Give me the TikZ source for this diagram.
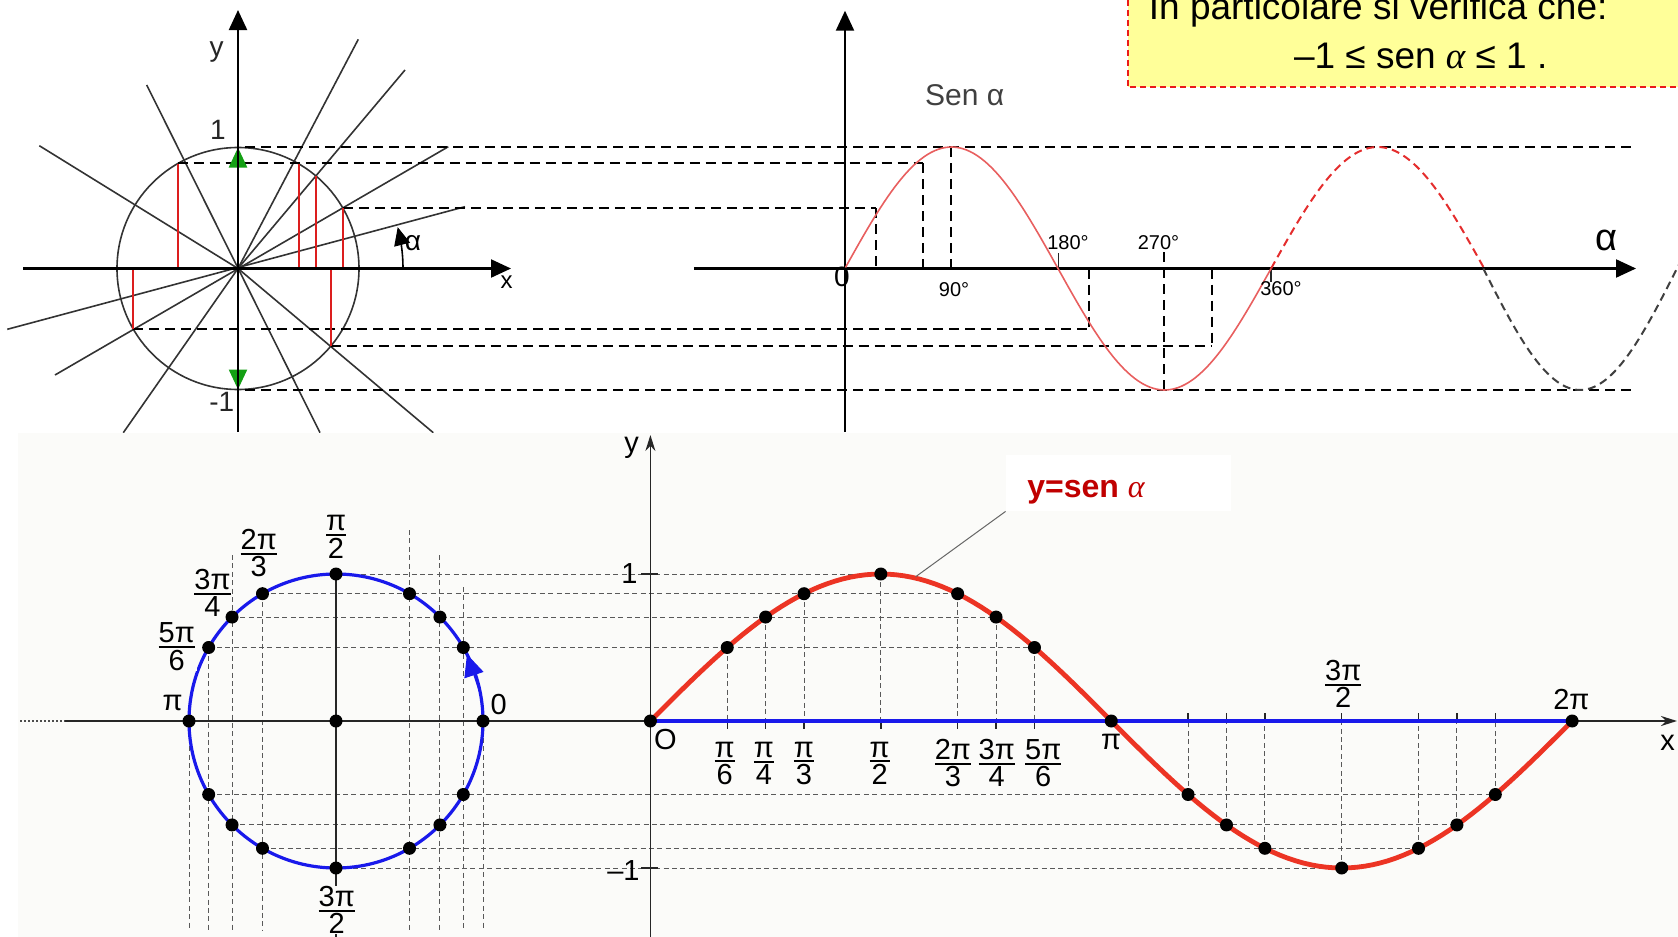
\documentclass[tikz,border=0pt]{standalone}
\usepackage{fontspec}
\setmainfont{Liberation Sans}
\newfontfamily\tnr{Liberation Serif}
\usetikzlibrary{arrows.meta}
\newcommand\fsz[1]{\fontsize{#1}{#1}\selectfont}
\newcommand\fr[2]{$\textstyle{\mbox{#1}\above 1pt\mbox{#2}}$}
\definecolor{panel}{RGB}{251,251,249}
\definecolor{boxyellow}{RGB}{255,255,153}
\definecolor{boxred}{RGB}{235,25,25}
\definecolor{circred}{RGB}{220,30,30}
\definecolor{sinred}{RGB}{232,95,95}
\definecolor{dashred}{RGB}{228,45,45}
\definecolor{arrowgreen}{RGB}{20,160,20}
\definecolor{curvered}{RGB}{236,52,36}
\definecolor{curveblue}{RGB}{25,25,235}
\definecolor{labelred}{RGB}{192,0,0}
\begin{document}
\begin{tikzpicture}[x=0.5pt,y=-0.5pt,
  ax/.style={line width=1.1pt,black},
  rayl/.style={line width=0.8pt,black!80},
  hd/.style={line width=1pt,black,dash pattern=on 5pt off 3pt},
  gd/.style={line width=0.5pt,black!65,dash pattern=on 2.5pt off 1.7pt},
  blackdot/.style={circle,fill=black,inner sep=0pt,minimum size=6.5pt},
  lbl/.style={inner sep=0pt,font=\fsz{14.5}},
  toplbl/.style={inner sep=0pt,font=\fsz{14},text=black!85},
  deg/.style={inner sep=0pt,font=\fsz{10}},
  tri/.style={-{Triangle[length=10pt,width=9pt]}},
  tickl/.style={line width=0.7pt,black!85},
]
\useasboundingbox (0,0) rectangle (1678,937);
\clip (0,0) rectangle (1678,937);

% ---------------- yellow box ----------------
\coordinate (yb1) at (1127.6,-10);
\coordinate (yb2) at (1127.6,87.3);
\coordinate (yb3) at (1690,87.3);
\fill[boxyellow] (yb1) rectangle (yb3);
\draw[boxred,line width=1pt,dash pattern=on 3pt off 2pt] (yb1) -- (yb2) -- (yb3);
\node[anchor=base west,inner sep=0pt,font=\fsz{18.5}] (t1) at (1148.5,19.5) {In particolare si verifica che:};
\node[anchor=base,inner sep=0pt,font=\fsz{18.5}] (t2) at (1420.7,68.3) {–1 ≤ sen {\tnr\itshape α} ≤ 1 .};

% ---------------- top left: unit circle ----------------
\coordinate (A) at (238,268.5);
\coordinate (yab) at (238,432);
\coordinate (yat) at (238,10);
\coordinate (xal) at (23,268.5);
\coordinate (xar) at (511,268.5);

\coordinate (ra) at (39.3,145.7);
\coordinate (rb1) at (146.7,85);
\coordinate (rb2) at (320,432.7);
\coordinate (rc) at (358.3,39.3);
\coordinate (rd) at (405,70);
\coordinate (re1) at (448.3,146.7);
\coordinate (re2) at (55,375);
\coordinate (rf1) at (465,206.7);
\coordinate (rf2) at (7.3,329.3);
\coordinate (ri) at (123.3,432.7);
\coordinate (rk) at (433.3,432.7);
\draw[rayl] (A) -- (ra);
\draw[rayl] (rb1) -- (rb2);
\draw[rayl] (A) -- (rc);
\draw[rayl] (A) -- (rd);
\draw[rayl] (re1) -- (re2);
\draw[rayl] (rf1) -- (rf2);
\draw[rayl] (A) -- (ri);
\draw[rayl] (A) -- (rk);

\draw[line width=0.8pt,black!80] (A) circle[radius=60.5pt];

\coordinate (h1a) at (245,147); \coordinate (h1b) at (1636,147);
\coordinate (h2a) at ({238+121*cos(120)},163); \coordinate (h2b) at (922.8,163);
\coordinate (h3a) at ({238+121*cos(30)},208); \coordinate (h3b) at (875.7,208);
\coordinate (h4a) at ({238+121*cos(210)},329); \coordinate (h4b) at (1089.3,329);
\coordinate (h5a) at ({238+121*cos(320)},346.3); \coordinate (h5b) at (1211.8,346.3);
\coordinate (h6a) at (245,389.5); \coordinate (h6b) at (1636,389.5);
\foreach \i in {1,...,6} \draw[hd] (h\i a) -- (h\i b);

\foreach \a in {30,50,60,120,210,320}{
  \coordinate (rs\a a) at ({238+121*cos(\a)},268.5);
  \coordinate (rs\a b) at ({238+121*cos(\a)},{268.5-121*sin(\a)});
  \draw[circred,line width=1pt] (rs\a a) -- (rs\a b);
}

\coordinate (gtop) at (238,147.5);
\coordinate (gbot) at (238,389.5);
\draw[arrowgreen,line width=1.2pt,-{Triangle[length=10pt,width=9pt]}] (A) -- (gtop);
\draw[arrowgreen,line width=1.2pt,-{Triangle[length=10pt,width=9pt]}] (A) -- (gbot);

\draw[ax,tri] (yab) -- (yat);
\draw[ax,tri] (xal) -- (xar);

\draw[line width=0.8pt,black,-{Triangle[length=9pt,width=8pt]}] plot[domain=0:14.5,samples=20] ({238+165*cos(\x)},{268.5-165*sin(\x)});

\node[toplbl] (ly) at (216.7,51.7) {y};
\node[toplbl] (l1) at (218,130) {1};
\node[toplbl] (lm1) at (221.7,401.7) {-1};
\node[inner sep=0pt,font=\fsz{12}] (lx) at (506.7,281.7) {x};
\node[inner sep=0pt,font=\fsz{14}] (lal) at (413,243) {α};

% ---------------- top right: sine graph ----------------
\coordinate (Gy0) at (845,432);
\coordinate (Gy1) at (845,10.7);
\coordinate (Gx0) at (693.8,268.5);
\coordinate (Gx1) at (1636,268.5);
\draw[ax,tri] (Gy0) -- (Gy1);
\draw[ax,tri] (Gx0) -- (Gx1);

\coordinate (v1a) at (875.7,208); \coordinate (v1b) at (875.7,268.5);
\coordinate (v2a) at (922.8,163); \coordinate (v2b) at (922.8,268.5);
\coordinate (v3a) at (951.3,147); \coordinate (v3b) at (951.3,268.5);
\coordinate (v4a) at (1089.3,268.5); \coordinate (v4b) at (1089.3,329);
\coordinate (v5a) at (1164.4,252); \coordinate (v5b) at (1164.4,389.5);
\coordinate (v6a) at (1211.8,268.5); \coordinate (v6b) at (1211.8,346.3);
\foreach \i in {1,...,6} \draw[hd] (v\i a) -- (v\i b);

\coordinate (tk1a) at (1058.4,253); \coordinate (tk1b) at (1058.4,268.5);
\coordinate (tk2a) at (1271.1,268.5); \coordinate (tk2b) at (1271.1,281.5);
\draw[tickl] (tk1a) -- (tk1b);
\draw[tickl] (tk2a) -- (tk2b);

\draw[sinred,line width=0.8pt] plot[domain=0:360,samples=120] ({844.9+1.1839*\x},{268.5-121.5*sin(\x)});
\draw[dashred,line width=1pt,dash pattern=on 4pt off 2.5pt] plot[domain=360:540,samples=60] ({844.9+1.1839*\x},{268.5-121.5*sin(\x)});
\draw[black!75,line width=1pt,dash pattern=on 4pt off 2.5pt] plot[domain=540:725,samples=60] ({1483.3+1.076*(\x-540)},{268.5-121.5*sin(\x)});

\node[inner sep=0pt,font=\fsz{14}] (g0) at (842,277) {0};
\node[deg] (d90) at (954,290) {90°};
\node[deg] (d180) at (1068,243) {180°};
\node[deg] (d270) at (1158.5,243) {270°};
\node[deg] (d360) at (1281,289) {360°};
\node[inner sep=0pt,font=\fsz{15},text=black!75] (sen) at (964.7,95) {Sen α};
\node[inner sep=0pt,font=\fsz{19}] (alph) at (1606.7,240) {α};

% ---------------- bottom panel ----------------
\coordinate (P0) at (18,433);
\coordinate (P1) at (1690,945);
\fill[panel] (P0) rectangle (P1);
\node[fill=white,minimum width=112.5pt,minimum height=28pt,inner sep=0pt] (labbox) at (1118.5,483) {};

\coordinate (C) at (336,721);
\coordinate (O) at (650.4,721);
\foreach \a in {0,30,45,60,90,120,135,150,180,210,225,240,270,300,315,330}
  \coordinate (c\a) at ({336+147*cos(\a)},{721-147*sin(\a)});
\foreach \a in {0,30,45,60,90,120,135,150,180,210,225,240,270,300,315,330,360}
  \coordinate (g\a) at ({650.4+2.5604*\a},{721-147*sin(\a)});

\foreach \a/\t in {0/721,30/587,45/555,60/530,120/593.7,135/555,150/647.5,180/721}{
  \coordinate (vt\a) at ({336+147*cos(\a)},\t);
  \coordinate (vb\a) at ({336+147*cos(\a)},930);
  \draw[gd] (vt\a) -- (vb\a);
}
\foreach \p/\q in {90/90,120/120,135/135,150/150,210/330,225/315,240/300,270/270}
  \draw[gd] (c\p) -- (g\q);
\foreach \a in {30,45,60,90,120,135,150,210,225,240,270,300,315,330}
  \draw[gd] (g\a) -- (g\a |- O);
\foreach \a in {30,45,60,90,120,135,150}
  \draw[tickl] (g\a |- O) -- ++(0,8);
\foreach \a in {210,225,240,270,300,315,330}
  \draw[tickl] (g\a |- O) -- ++(0,-8);

\coordinate (cvb) at (336,937);
\draw[line width=0.8pt,black!85] (c90) -- (cvb);
\coordinate (ax0) at (20,721);
\coordinate (ax1) at (65,721);
\coordinate (ax2) at (1677,721);
\draw[line width=0.8pt,black!70,dash pattern=on 1pt off 1pt] (ax0) -- (ax1);
\draw[line width=1.1pt,black!85,-{Stealth[length=8pt,width=5pt]}] (ax1) -- (ax2);
\coordinate (yb0) at (650.4,937);
\coordinate (yb1) at (650.4,435);
\draw[line width=0.8pt,black!85,-{Stealth[length=8pt,width=5pt]}] (yb0) -- (yb1);
\coordinate (tp1a) at (641,574); \coordinate (tp1b) at (658,574);
\coordinate (tm1a) at (641,868); \coordinate (tm1b) at (658,868);
\draw[tickl] (tp1a) -- (tp1b);
\draw[tickl] (tm1a) -- (tm1b);

\draw[curveblue,line width=1.6pt] (C) circle[radius=73.5pt];
\coordinate (ba1) at ({336+147*cos(10)},{721-147*sin(10)});
\coordinate (ba2) at ({336+147*cos(27)},{721-147*sin(27)});
\draw[curveblue,line width=0.5pt,-{Triangle[length=11pt,width=10pt]}] (ba1) -- (ba2);

\draw[curveblue,line width=2pt] (O) -- (g360);
\draw[curvered,line width=2.4pt] plot[domain=0:360,samples=121] ({650.4+2.5604*\x},{721-147*sin(\x)});

\node[blackdot] (dC) at (C) {};
\foreach \a in {0,30,45,60,90,120,135,150,180,210,225,240,270,300,315,330}
  \node[blackdot] (dc\a) at (c\a) {};
\foreach \a in {0,30,45,60,90,120,135,150,180,210,225,240,270,300,315,330,360}
  \node[blackdot] (dg\a) at (g\a) {};

\node[lbl] (cl90) at (336,537) {\fr{π}{2}};
\node[lbl] (cl120) at (258.8,553.3) {\fr{2π}{3}};
\node[lbl] (cl135) at (212.5,593.3) {\fr{3π}{4}};
\node[lbl,fill=panel] (cl150) at (176.8,646.7) {\fr{5π}{6}};
\node[lbl] (cl180) at (172.6,703.3) {π};
\node[lbl] (cl0) at (498.7,705) {0};
\node[lbl,fill=panel] (cl270) at (336.7,910) {\fr{3π}{2}};

\node[lbl] (gO) at (665.5,740) {O};
\node[lbl] (gl30) at (724.6,763.3) {\fr{π}{6}};
\node[lbl] (gl45) at (763.9,763.3) {\fr{π}{4}};
\node[lbl] (gl60) at (803.9,763.3) {\fr{π}{3}};
\node[lbl] (gl90) at (879.6,763.3) {\fr{π}{2}};
\node[lbl] (gl120) at (952.9,763.3) {\fr{2π}{3}};
\node[lbl] (gl135) at (996.8,763.3) {\fr{3π}{4}};
\node[lbl] (gl150) at (1043.2,763.3) {\fr{5π}{6}};
\node[lbl] (gl180) at (1111,741.7) {π};
\node[lbl] (gl270) at (1343.3,684) {\fr{3π}{2}};
\node[lbl] (gl360) at (1571.4,700) {2π};
\node[lbl] (glx) at (1667.6,743.3) {x};
\node[lbl] (gly) at (631.5,448) {y};
\node[lbl,anchor=east] (gl1) at (638,574) {1};
\node[lbl,anchor=east] (glm1) at (640,871) {–1};

\coordinate (ldr) at (915.7,576.7);
\draw[black!60,line width=0.5pt] (labbox.south west) -- (ldr);
\node[inner sep=0pt,text=labelred,font=\fsz{16}\bfseries] (lab) at (1086,492) {y=sen {\tnr\mdseries\itshape α}};
\end{tikzpicture}
\end{document}
